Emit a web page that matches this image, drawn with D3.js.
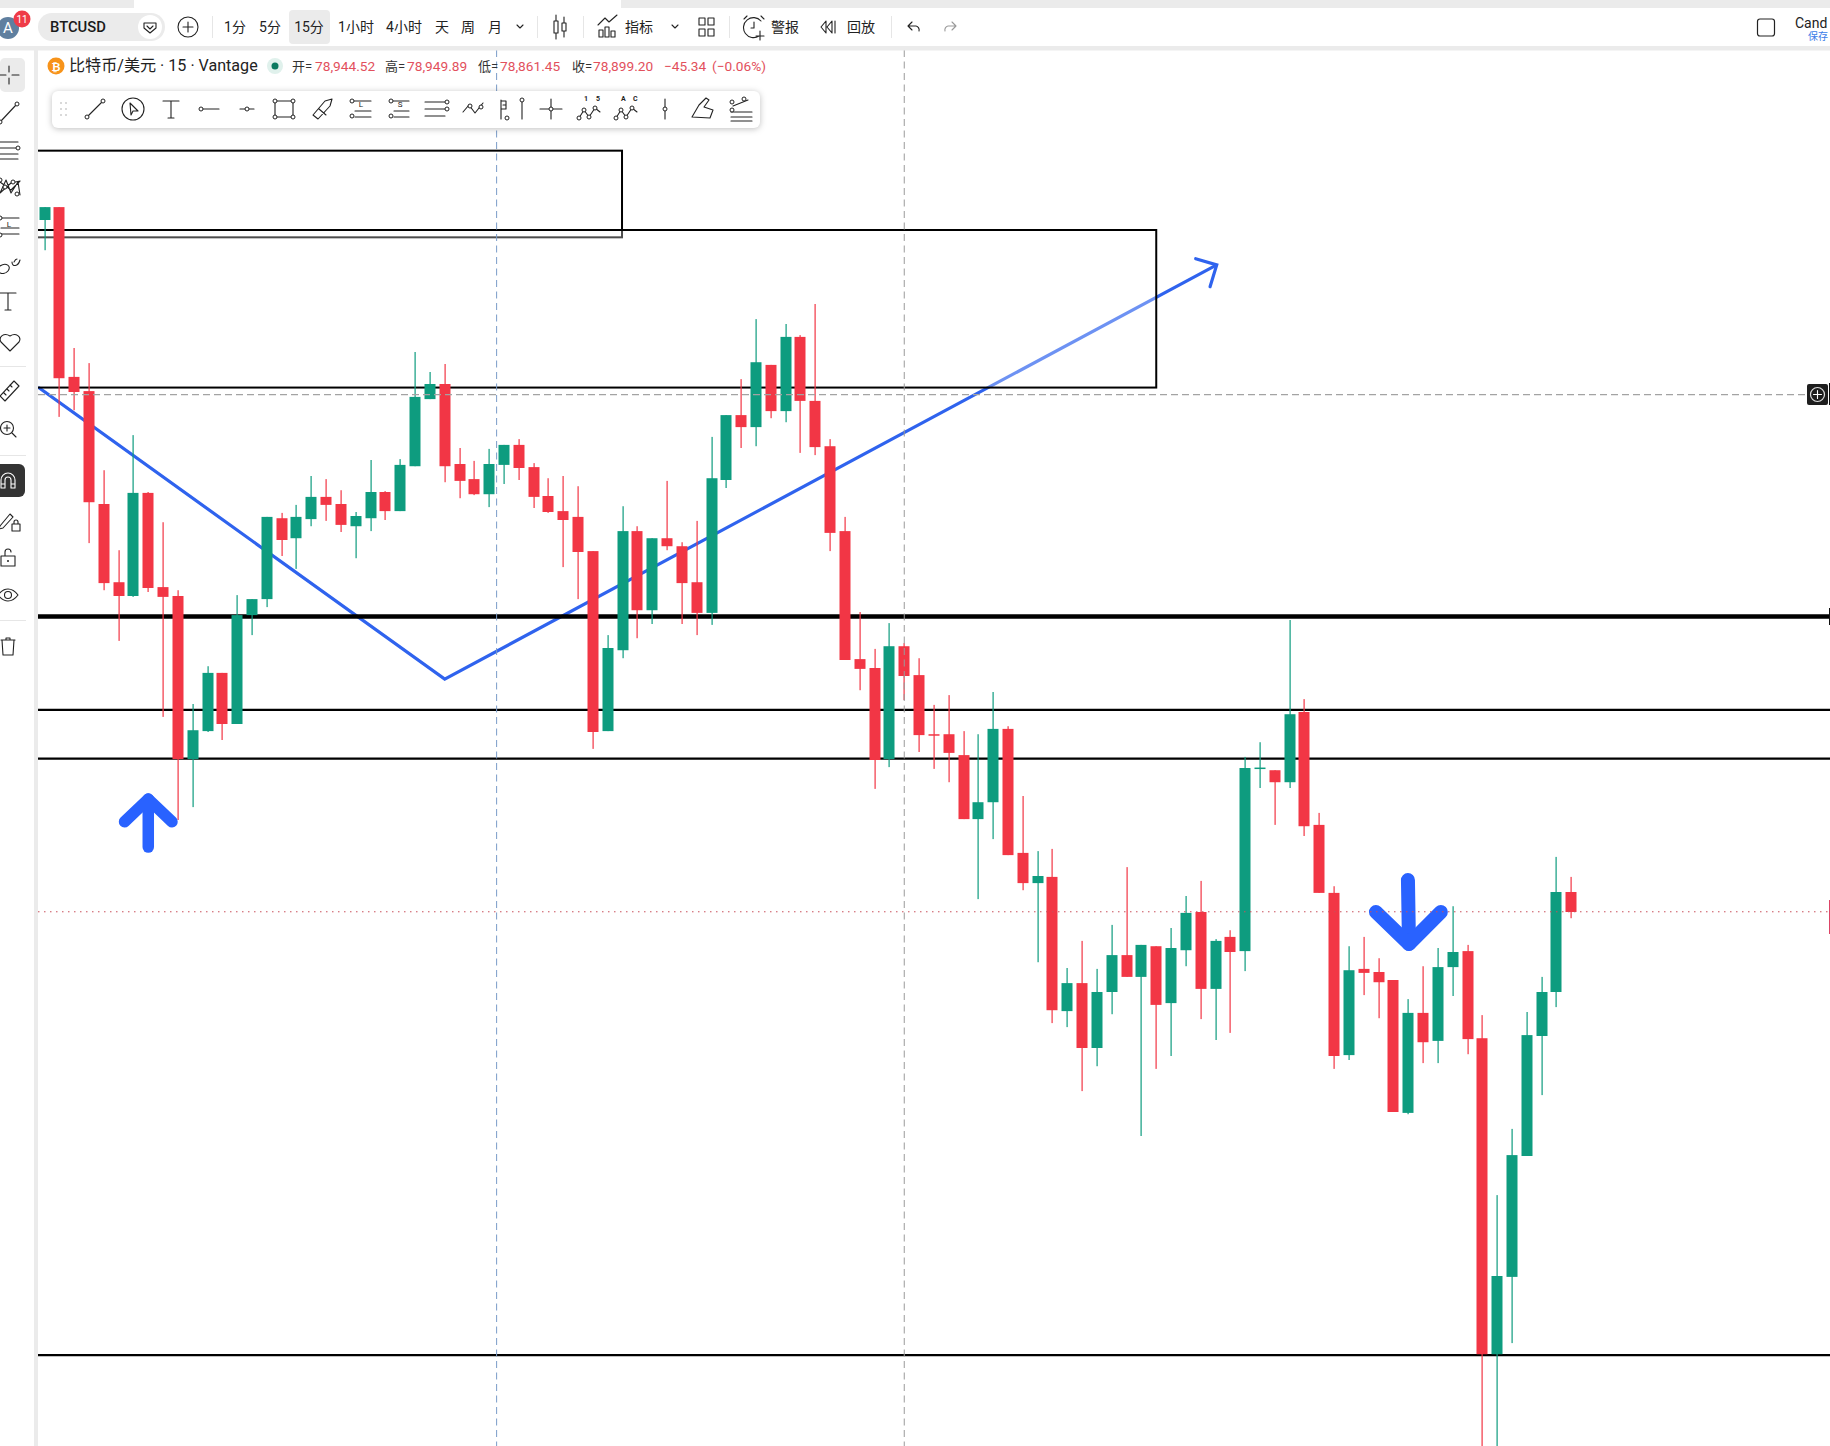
<!DOCTYPE html>
<html><head><meta charset="utf-8">
<script src="https://cdn.jsdelivr.net/npm/d3@7/dist/d3.min.js"></script>
<style>html,body{margin:0;padding:0;background:#fff;overflow:hidden}svg{display:block}text{font-family:Roboto,"Noto Sans CJK SC",sans-serif}</style>
</head><body><div id="c"></div>
<script>
// price data
const opens=[80456,80485,80103,80071,79817,79641,79610,79842,79630,79610,79243,79306,79437,79322,79567,79603,79785,79740,79783,79833,79817,79767,79785,79844,79801,79902,80053,80087,79907,79873,79839,79905,79950,79900,79835,79801,79788,79711,79306,79488,79756,79578,79740,79722,79641,79572,79871,80017,79990,80130,80026,80193,80049,79947,79756,79468,79448,79243,79497,79432,79299,79299,79252,79108,79146,79311,79032,78964,78978,78676,78739,78593,78719,78802,78753,78822,78694,78813,78899,78726,78843,78811,79222,79218,79191,79349,79095,78942,78577,78771,78764,78746,78447,78672,78609,78775,78811,78615,77904,78078,78350,78620,78719,78944];
const closes=[80485,80100,80069,79821,79639,79610,79842,79628,79608,79243,79308,79437,79322,79567,79603,79788,79736,79788,79833,79815,79770,79790,79844,79801,79905,80058,80087,79902,79869,79839,79907,79950,79898,79833,79799,79781,79709,79304,79493,79756,79578,79740,79722,79639,79572,79875,80017,79990,80136,80026,80193,80049,79945,79752,79466,79446,79241,79497,79430,79297,79297,79257,79108,79146,79311,79027,78964,78980,78678,78739,78593,78719,78802,78753,78825,78690,78818,78897,78726,78834,78809,79223,79224,79191,79344,79092,78942,78575,78768,78762,78741,78449,78672,78606,78775,78809,78613,77904,78080,78352,78622,78719,78944,78899];
const highs=[80485,80485,80168,80134,79893,79713,79972,79844,79776,79623,79367,79452,79437,79612,79603,79788,79797,79815,79880,79873,79848,79799,79916,79846,79918,80159,80114,80132,79943,79914,79941,79950,79963,79909,79875,79880,79857,79711,79522,79812,79767,79740,79869,79731,79779,79968,80017,80098,80233,80130,80222,80197,80267,79963,79788,79574,79491,79549,79504,79470,79365,79387,79306,79299,79394,79317,79160,79036,79041,78773,78834,78771,78870,79000,78825,78822,78863,78935,78969,78838,78858,79248,79281,79218,79556,79378,79122,78957,78822,78843,78795,78746,78703,78777,78818,78912,78825,78667,78262,78411,78674,78753,79023,78978];
const lows=[80388,80013,80028,79729,79623,79509,79608,79619,79338,79106,79135,79304,79286,79322,79522,79585,79700,79671,79767,79779,79754,79695,79756,79781,79801,79902,80053,79866,79830,79837,79810,79862,79871,79808,79797,79675,79603,79266,79306,79470,79515,79547,79713,79547,79522,79545,79853,79943,79947,80010,80001,79932,79927,79711,79466,79398,79176,79225,79376,79259,79221,79191,79108,78928,79063,79027,78948,78786,78649,78640,78496,78552,78669,78753,78395,78546,78575,78777,78658,78611,78627,78766,79178,79095,79178,79070,78942,78546,78566,78712,78660,78449,78444,78559,78559,78710,78579,77688,77688,77929,78350,78487,78685,78885];
// drawings on the chart, in bar index / price
const thickLevels=[79564];
const levels=[79354,79244,77902];
const boxes=[[-2,80612,38.96,80417],[-2,80433.5,75,80079]];
const trendPath=[[-0.44,80080],[27,79423],[79.08,80355]];
const trendHead=[[77.66,80369],[79.08,80355],[78.63,80306]];
const upShaft=[[7,79045],[7,79153]];
const upHead=[[5.4,79102],[7,79153],[8.6,79102]];
const downShaft=[[91.98,78971],[92.05,78827]];
const downHead=[[89.82,78899],[92.05,78827],[94.2,78899]];
const crossPrice=80063, lastPrice=78899.5;
const crossBars=[30.5,58];
// texts
const intervals=[["1分",235],["5分",270],["15分",309],["1小时",356],["4小时",404],["天",442],["周",468],["月",495]];
const ohlcLabels=[["开=",292],["高=",385],["低=",478],["收=",572]];
const ohlcValues=[["78,944.52",315],["78,949.89",407],["78,861.45",500],["78,899.20",593],["−45.34",664],["(−0.06%)",712]];

const W=1830,H=1446,UP="#0e9c7f",DOWN="#f23645",BLUE="#2962ff";
const x=d3.scaleLinear().domain([0,103]).range([44.5,1571.3]);
const y=d3.scaleLinear().domain([80951,77697.5]).range([0,H]);
const svg=d3.select("#c").append("svg").attr("width",W).attr("height",H).attr("viewBox",[0,0,W,H]);
svg.append("defs").append("clipPath").attr("id","pane").append("rect").attr("x",38).attr("y",50).attr("width",W-38).attr("height",H-50);
const lineGen=d3.line().x(d=>x(d[0])).y(d=>y(d[1]));
const pane=svg.append("g").attr("clip-path","url(#pane)");

// trend line under boxes
pane.append("path").attr("d",lineGen(trendPath)).attr("fill","none").attr("stroke","#2f63ee").attr("stroke-width",3.2);
pane.append("path").attr("d",lineGen(trendHead)).attr("fill","none").attr("stroke","#2f63ee").attr("stroke-width",3.2).attr("stroke-linecap","round");
// boxes
pane.selectAll("rect.box").data(boxes).join("rect").attr("class","box")
 .attr("x",d=>x(d[0])).attr("y",d=>y(d[1])).attr("width",d=>x(d[2])-x(d[0])).attr("height",d=>y(d[3])-y(d[1]))
 .attr("fill","rgba(255,255,255,.3)").attr("stroke","#000").attr("stroke-width",2);
// horizontal levels
pane.selectAll("line.lv").data(levels).join("line").attr("class","lv").attr("x1",38).attr("x2",W).attr("y1",d=>y(d)).attr("y2",d=>y(d)).attr("stroke","#000").attr("stroke-width",2.2);
pane.selectAll("line.lt").data(thickLevels).join("line").attr("class","lt").attr("x1",38).attr("x2",W).attr("y1",d=>y(d)).attr("y2",d=>y(d)).attr("stroke","#000").attr("stroke-width",4.4);
// candles
const idx=d3.range(opens.length);
const col=i=>closes[i]>=opens[i]?UP:DOWN;
pane.selectAll("rect.w").data(idx).join("rect").attr("class","w")
 .attr("x",i=>Math.round(x(i))-0.5).attr("width",1.2).attr("y",i=>y(highs[i])).attr("height",i=>y(lows[i])-y(highs[i])).attr("fill",col);
pane.selectAll("rect.b").data(idx).join("rect").attr("class","b")
 .attr("x",i=>Math.round(x(i))-5.5).attr("width",11)
 .attr("y",i=>Math.min(y(opens[i]),y(closes[i]))).attr("height",i=>Math.max(1.5,Math.abs(y(opens[i])-y(closes[i])))).attr("fill",col);
// big arrows
[[upShaft,upHead,11.5],[downShaft,downHead,14]].forEach(([s,h,w])=>{
 [s,h].forEach(p=>pane.append("path").attr("d",lineGen(p)).attr("fill","none").attr("stroke",BLUE).attr("stroke-width",w).attr("stroke-linecap","round").attr("stroke-linejoin","round"));
});
// crosshair & price lines
pane.append("line").attr("x1",38).attr("x2",1806).attr("y1",y(crossPrice)).attr("y2",y(crossPrice)).attr("stroke","#a3a3a3").attr("stroke-width",1.2).attr("stroke-dasharray","7,4");
pane.append("line").attr("x1",38).attr("x2",W).attr("y1",y(lastPrice)).attr("y2",y(lastPrice)).attr("stroke","#c9505a").attr("stroke-width",1).attr("stroke-dasharray","1.5,4.5");
pane.selectAll("line.v").data(crossBars).join("line").attr("class","v").attr("x1",d=>x(d)).attr("x2",d=>x(d)).attr("y1",50).attr("y2",H)
 .attr("stroke",(d,i)=>i?"#9a9a9a":"#7a9cc8").attr("stroke-width",1).attr("stroke-dasharray","7,4.5");

// chrome
const bg="#ebebeb", ink="#222";
const R=(a,b,w,h,f,r)=>svg.append("rect").attr("x",a).attr("y",b).attr("width",w).attr("height",h).attr("fill",f).attr("rx",r||0);
R(0,0,134,8,bg);R(621,0,W-621,8,bg,0);R(0,46,W,4.5,bg);R(34,50,4,H-50,bg);
const T=(s,a,b,fs,f,o={})=>svg.append("text").attr("x",a).attr("y",b).attr("font-size",fs).attr("fill",f).attr("text-anchor",o.a||"start").attr("font-weight",o.w||400).text(s);
const I=(a,b,d,o={})=>svg.append("path").attr("transform",`translate(${a},${b})`).attr("d",d).attr("fill",o.f||"none").attr("stroke",o.s||ink).attr("stroke-width",o.w||1.1).attr("stroke-linecap","round").attr("stroke-linejoin","round");
const C=(a,b,r,f,s,w)=>svg.append("circle").attr("cx",a).attr("cy",b).attr("r",r).attr("fill",f).attr("stroke",s||"none").attr("stroke-width",w||1);
// avatar
C(8,28,11,"#5f7f9f");T("A",8,33,15,"#fff",{a:"middle"});C(22,19,8.5,"#ef3b48");T("11",22,22.5,10,"#fff",{a:"middle"});
R(38,13,127,28,bg,14);T("BTCUSD",50,32,14.8,"#1a1a1a",{w:500});C(150,27,12,"#fff");
I(150,27,"M-6,-4 L6,-4 L6,1 L0,6 L-6,1Z M-3,-1 L0,2 L3,-1");
C(188,27,10,"none",ink,1.1);I(188,27,"M-5,0H5M0,-5V5");
[212,537,583,729,891].forEach(v=>R(v,16,1,22,"#e6e6e6"));
R(289,10,41,34,"#ebebeb",4);
intervals.forEach(([s,a])=>T(s,a,32,14,"#222",{a:"middle"}));
I(520,27,"M-3,-2L0,1L3,-2");
I(560,27,"M-6,-6h4v12h-4zM-4,-12v6M-4,6v6M2,-4h4v8h-4zM4,-10v6M4,4v6");
I(608,27,"M-9,10v-7h4v7zM-3,10v-10h4v10zM3,10v-6h4v6zM-10,-2L-3,-9L1,-5L9,-12");
T("指标",639,32,14,"#222",{a:"middle"});I(675,27,"M-3,-2L0,1L3,-2");
I(706,27,"M-7,-9h6v7h-6zM2,-9h6v7h-6zM-7,2h6v7h-6zM2,2h6v7h-6z");
I(754,27,"M7,-6A10,10 0 1 0 5,9M-7,-11L-10,-8M7,-11L10,-8M0,-5V1H-3M6,4V13M2,9H10");
T("警报",785,32,14,"#222",{a:"middle"});
I(828,27,"M-2,-6L-7,0L-2,6ZM4,-6L-1,0L4,6ZM7,-6V6");
T("回放",861,32,14,"#222",{a:"middle"});
I(913,27,"M-5,-1L-1,-5M-5,-1L-1,3M-5,-1H3A4,4 0 0 1 6,4");
I(951,27,"M5,-1L1,-5M5,-1L1,3M5,-1H-3A4,4 0 0 0 -6,4",{s:"#999"});
svg.append("rect").attr("x",1757.5).attr("y",19).attr("width",17).attr("height",17).attr("rx",2.5).attr("fill","none").attr("stroke",ink).attr("stroke-width",1.2);
T("Cand",1795,28,14,"#222");T("保存",1808,40,10,"#3b7de8");
// legend
C(56,66,8.5,"#f7931a");T("₿",56,70.5,11,"#fff",{a:"middle",w:700});
T("比特币/美元 · 15 · Vantage",69,71,16.1,"#222");
C(275,66,8,"#e0f1ec");C(275,66,3.5,"#0b7a60");
ohlcLabels.forEach(([s,a])=>T(s,a,71,13,"#333"));
ohlcValues.forEach(([s,a])=>T(s,a,71,13.7,"#e2505c"));
// floating toolbar
const tb=R(52,91,708,37,"#fff",6);tb.style("filter","drop-shadow(0 1px 3px rgba(0,0,0,.25))");
for(let i=0;i<3;i++)for(let j=0;j<2;j++)C(61+j*5,103+i*6,1,"#ccc");
const n=(a,b)=>C(a,b,2,"#fff",ink,1);
I(95,109,"M-8,8L8,-8");n(87,117);n(103,101);
C(133,109,11,"none",ink,1.1);I(133,109,"M-3,-6L5,2L0,2L-2,6Z");
I(171,109,"M-8,-8H8M0,-8V9M-3,9H3");
I(209,109,"M-7,0H10");n(201,109);
I(247,109,"M-7,0H7");n(247,109);
I(284,109,"M-9,-8H9V8H-9Z");n(275,101);n(293,101);n(275,117);n(293,117);
I(322,109,"M-9,6L3,-8L10,-10L8,-3L-4,10ZM-3,0L4,6");
I(361,109,"M-7,-8H10M-6,8H10M-6,2H10");n(352,101);n(352,116);T("L",361,107,8,ink,{a:"middle"});
I(400,109,"M-7,-8H9M-6,8H9M-6,2H9");n(391,101);n(391,116);T("S",400,107,8,ink,{a:"middle"});
I(436,109,"M-11,-7H9M-11,0H9M-11,7H9");n(447,102);n(447,109);
I(474,109,"M-11,3L-5,-4L1,4L9,-6");n(470,106);n(481,107);
I(506,109,"M-5,-9V10M-5,-8h5v8h-5M-3,-4h3");n(507,118);
I(522,109,"M0,-7V10");n(522,100);
I(551,109,"M-11,0H11M0,-10V10");n(551,109);
T("1",584,101,7,ink,{w:700});T("5",596,101,7,ink,{w:700});
I(589,113,"M-10,5L-5,-3L0,4L6,-5L11,-1");n(579,118);n(584,110);n(589,117);n(595,108);
T("A",621,101,7,ink,{w:700});T("C",633,101,7,ink,{w:700});
I(626,113,"M-10,5L-5,-3L0,4L6,-5L11,-1");n(616,118);n(621,110);n(626,117);n(632,108);
I(665,109,"M0,-10V10");n(665,109);
I(703,109,"M-11,8L-4,-4L3,-11L6,-9L1,-2L10,1L7,9Z");
I(741,109,"M-10,3H11M-10,8H11M-10,12H11M-8,-3L7,-9");n(732,102);n(744,99);n(732,110);
// left rail
R(0,58,25,34,"#ebebeb",5);I(9,75,"M-9,0H-3M3,0H10M0,-9V-3M0,3V9");
I(9,113,"M-8,8L7,-8");n(0,122);n(17,104);
I(8,150,"M-8,-8H10M-8,-2H10M-8,4H10M-8,9H10");n(18,148);
I(8,187,"M-8,6L-2,-7L3,6L10,-5L12,8M-8,-5L3,3L12,-6M-8,6L3,-4L12,-6");n(5,187);n(0,180);n(17,194);n(13,182);
I(9,226,"M-8,-8H10M-8,2H10M-8,8H10");n(0,218);n(0,235);T("L",9,227,8,ink,{a:"middle"});
I(6,268,"M-6,-2C-12,5 -2,8 2,3C6,-2 0,-6 -6,-2M6,-6C6,-1 12,-1 14,-8M8,-6C9,-8 10,-9 11,-9");
I(8,301,"M-8,-8H8M0,-8V9M-3,9H3");
I(10,342,"M0,9L-9,0C-12,-5 -6,-10 0,-6C6,-10 12,-5 9,0Z");
R(0,366,26,1,"#e6e6e6");
I(9,391,"M-9,5L5,-10L10,-5L-4,10ZM-5,2L-3,4M-2,-2L0,0M1,-6L3,-4");
C(7,428,6.5,"none",ink,1.1);I(7,428,"M-3,0H3M0,-3V3M5,5L9,9");
R(0,455,26,1,"#e6e6e6");
R(-6,464,31,33,"#333",6);I(8,481,"M-7,7V-1A7,7 0 0 1 7,-1V7H3V-1A3,3 0 0 0 -3,-1V7ZM-7,3H-3M3,3H7",{s:"#fff"});
I(7,520,"M-7,6L3,-6L6,-3L-4,8L-8,9ZM5,4h8v7h-8zM7,4v-2a2,2 0 0 1 4,0v2");
I(8,559,"M-7,-3h14v10h-14zM-3,-3v-4a3,3 0 0 1 6,0");C(8,561,1,ink);
I(8,595,"M-10,0C-4,-8 4,-8 10,0C4,8 -4,8 -10,0Z");C(8,595,3.5,"none",ink,1.1);
R(0,620,26,1,"#e6e6e6");
I(8,647,"M-7,-7H7M-6,-7L-5,8H5L6,-7M-2,-7V-9H2V-7");
// right edge
R(1807,384,21,21,"#1e1e1e",2);C(1817.5,394.5,7,"none","#ddd",1.2);I(1817.5,394.5,"M-4,0H4M0,-4V4",{s:"#fff"});
R(1829,383,1,22,"#111");R(1829,608,1,17,"#111");R(1829,900,1,34,"#d46");
</script></body></html>
